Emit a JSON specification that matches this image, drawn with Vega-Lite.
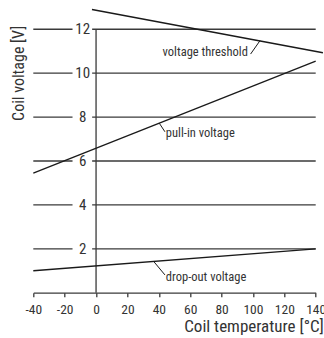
{
  "$schema": "https://vega.github.io/schema/vega-lite/v6.json",
  "width": 282.4,
  "height": 285.4,
  "autosize": "none",
  "padding": {"left": 33.3, "top": 7.3, "right": 8.3, "bottom": 45.3},
  "config": {
    "view": {"stroke": null},
    "font": "Roboto Condensed",
    "text": {"font": "Roboto Condensed"}
  },
  "resolve": {"axis": {"x": "independent", "y": "independent"}},
  "datasets": {
    "grid": [
      {"x": -40, "x2": -15, "v": 2}, {"x": -2.5, "x2": 140, "v": 2},
      {"x": -40, "x2": -15, "v": 4}, {"x": -2.5, "x2": 140, "v": 4},
      {"x": -40, "x2": -15, "v": 6}, {"x": -2.5, "x2": 140, "v": 6},
      {"x": -40, "x2": -15, "v": 8}, {"x": -2.5, "x2": 140, "v": 8},
      {"x": -40, "x2": -15, "v": 10}, {"x": -2.5, "x2": 140, "v": 10},
      {"x": -40, "x2": -15, "v": 12}, {"x": -2.5, "x2": 140, "v": 12}
    ],
    "yline": [{"x": 0, "v": 0, "v2": 12}],
    "ylabels": [
      {"x": -8.5, "v": 2, "t": "2"},
      {"x": -8.5, "v": 4, "t": "4"},
      {"x": -8.5, "v": 6, "t": "6"},
      {"x": -8.5, "v": 8, "t": "8"},
      {"x": -8.5, "v": 10, "t": "10"},
      {"x": -8.5, "v": 12, "t": "12"}
    ],
    "curves": [
      {"series": "voltage threshold", "x": -2.6, "v": 12.9},
      {"series": "voltage threshold", "x": 144.6, "v": 10.93},
      {"series": "pull-in voltage", "x": -40, "v": 5.45},
      {"series": "pull-in voltage", "x": 140, "v": 10.55},
      {"series": "drop-out voltage", "x": -40, "v": 1.0},
      {"series": "drop-out voltage", "x": 140, "v": 2.0}
    ],
    "leaders": [
      {"series": "voltage threshold", "x": 98.5, "v": 10.87},
      {"series": "voltage threshold", "x": 104.5, "v": 11.48},
      {"series": "pull-in voltage", "x": 40.3, "v": 7.72},
      {"series": "pull-in voltage", "x": 43.9, "v": 7.33},
      {"series": "drop-out voltage", "x": 36.9, "v": 1.41},
      {"series": "drop-out voltage", "x": 43.9, "v": 0.81}
    ],
    "labels": [
      {"series": "voltage threshold", "x": 96.8, "v": 10.97, "side": "right"},
      {"series": "pull-in voltage", "x": 44.5, "v": 7.29, "side": "left"},
      {"series": "drop-out voltage", "x": 44.5, "v": 0.7, "side": "left"}
    ]
  },
  "layer": [
    {
      "data": {"name": "grid"},
      "mark": {"type": "rule", "color": "#3a3a3a", "strokeWidth": 1.3},
      "encoding": {
        "x": {
          "field": "x", "type": "quantitative",
          "scale": {"domain": [-40, 140], "nice": false, "zero": false},
          "axis": {
            "values": [-40, -20, 0, 20, 40, 60, 80, 100, 120, 140],
            "grid": false,
            "domainColor": "#3a3a3a", "domainWidth": 1.3,
            "tickColor": "#3a3a3a", "tickWidth": 1.3, "tickSize": 4,
            "labelFontSize": 13.5, "labelColor": "#333", "labelPadding": 6,
            "labelFont": "Roboto Condensed",
            "labelExpr": "datum.value < 0 ? '-' + abs(datum.value) : '' + datum.value",
            "labelFlush": false, "labelOverlap": false, "labelBound": false,
            "title": "Coil temperature [°C]",
            "titleFont": "Roboto Condensed",
            "titleFontSize": 17, "titleFontWeight": "normal", "titleColor": "#333",
            "titleX": 290, "titleY": 34, "titleAlign": "right", "titleBaseline": "middle"
          }
        },
        "x2": {"field": "x2"},
        "y": {
          "field": "v", "type": "quantitative",
          "scale": {"domain": [0, 13], "nice": false},
          "axis": {
            "domain": false, "ticks": false, "labels": false, "grid": false,
            "title": "Coil voltage [V]",
            "titleFont": "Roboto Condensed",
            "titleFontSize": 16, "titleFontWeight": "normal", "titleColor": "#333",
            "titleX": -14.5, "titleY": 18, "titleAlign": "right", "titleBaseline": "middle", "titleAngle": -90
          }
        }
      }
    },
    {
      "data": {"name": "yline"},
      "mark": {"type": "rule", "color": "#3a3a3a", "strokeWidth": 1.3},
      "encoding": {
        "x": {"field": "x", "type": "quantitative", "axis": null},
        "y": {"field": "v", "type": "quantitative", "axis": null},
        "y2": {"field": "v2"}
      }
    },
    {
      "data": {"name": "ylabels"},
      "mark": {"type": "text", "fontSize": 15, "color": "#333", "align": "center", "baseline": "middle"},
      "encoding": {
        "x": {"field": "x", "type": "quantitative", "axis": null},
        "y": {"field": "v", "type": "quantitative", "axis": null},
        "text": {"field": "t"}
      }
    },
    {
      "data": {"name": "curves"},
      "mark": {"type": "line", "color": "#1a1a1a", "strokeWidth": 1.3, "clip": false},
      "encoding": {
        "x": {"field": "x", "type": "quantitative", "axis": null},
        "y": {"field": "v", "type": "quantitative", "axis": null},
        "detail": {"field": "series"}
      }
    },
    {
      "data": {"name": "leaders"},
      "mark": {"type": "line", "color": "#1a1a1a", "strokeWidth": 1, "clip": false},
      "encoding": {
        "x": {"field": "x", "type": "quantitative", "axis": null},
        "y": {"field": "v", "type": "quantitative", "axis": null},
        "detail": {"field": "series"}
      }
    },
    {
      "data": {"name": "labels"},
      "transform": [{"filter": "datum.side == 'right'"}],
      "mark": {"type": "text", "fontSize": 12.5, "color": "#333", "baseline": "middle", "align": "right"},
      "encoding": {
        "x": {"field": "x", "type": "quantitative", "axis": null},
        "y": {"field": "v", "type": "quantitative", "axis": null},
        "text": {"field": "series"}
      }
    },
    {
      "data": {"name": "labels"},
      "transform": [{"filter": "datum.side == 'left'"}],
      "mark": {"type": "text", "fontSize": 12.5, "color": "#333", "baseline": "middle", "align": "left"},
      "encoding": {
        "x": {"field": "x", "type": "quantitative", "axis": null},
        "y": {"field": "v", "type": "quantitative", "axis": null},
        "text": {"field": "series"}
      }
    }
  ]
}
